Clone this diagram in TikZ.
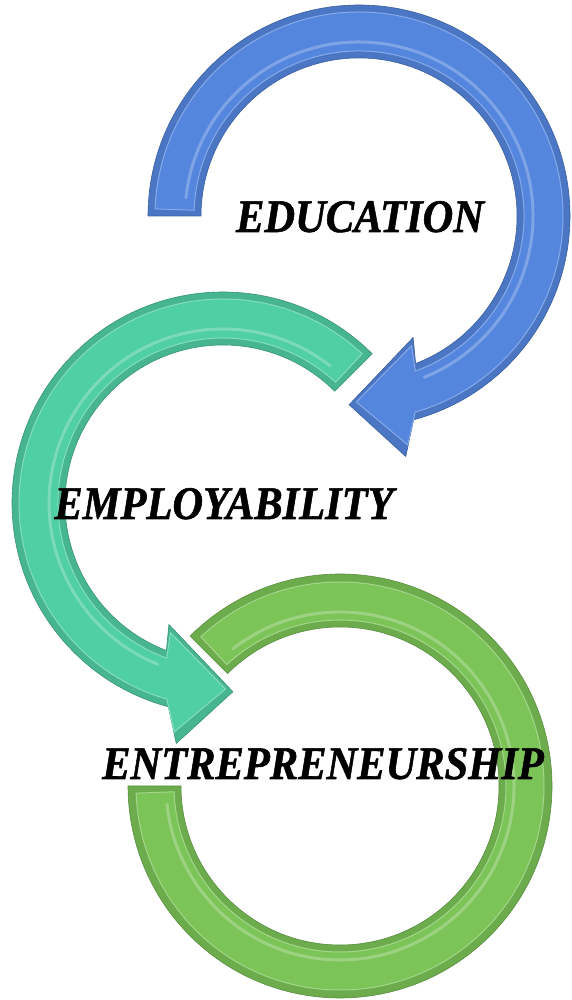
\documentclass[tikz,border=0pt]{standalone}
\usepackage{fontspec}
\setmainfont{Liberation Serif}[BoldItalicFeatures={FakeBold=1.2}]
\usepackage{tikz}
\usetikzlibrary{positioning}

\definecolor{eduBlue}{RGB}{84,134,222}
\definecolor{empTeal}{RGB}{80,206,164}
\definecolor{entGreen}{RGB}{124,196,88}

\begin{document}
\begin{tikzpicture}[
    x=1pt, y=1pt,
    band/.style={fill=#1!88!black, draw=#1!72!black, line width=0.6pt},
    face/.style={fill=#1, draw=#1!70!white, line width=1pt},
    gloss/.style={draw=white, line width=3pt, opacity=0.25, line cap=round},
    label/.style={font=\fontsize{42.5}{46}\selectfont\bfseries\itshape, text=black, inner sep=0pt, anchor=base}
]
\useasboundingbox (0,0) rectangle (571,1000);

% Entrepreneurship ring (no head)
\begin{scope}[shift={(340,214)}]
\path[band=entGreen] (135:212) arc[start angle=135, end angle=-180, radius=212]
    -- (-180:159) arc[start angle=-180, end angle=135, radius=159] -- cycle;
\path[face=entGreen] (133:204) arc[start angle=133, end angle=-178, radius=204]
    -- (-178:166) arc[start angle=-178, end angle=133, radius=166] -- cycle;
\draw[gloss] (128:174) arc[start angle=128, end angle=-174, radius=174];
\end{scope}

% Employability arrow
\begin{scope}[shift={(223,497)}]
\path[band=empTeal] (45:211) arc[start angle=45, end angle=255, radius=211]
    -- (259:245) -- (273:189) -- (246:133)
    -- (249:158) arc[start angle=249, end angle=45, radius=158] -- cycle;
\path[face=empTeal] (47:204) arc[start angle=47, end angle=254, radius=204]
    -- (258:234) -- (270.8:186) -- (248:140)
    -- (250:165) arc[start angle=250, end angle=47, radius=165] -- cycle;
\draw[gloss] (52:174) arc[start angle=52, end angle=248, radius=174];
\end{scope}

% Education arrow
\begin{scope}[shift={(359,784)}]
\path[band=eduBlue] (180:211) arc[start angle=180, end angle=-75, radius=211]
    -- (-79:245) -- (-93:189) -- (-66:133)
    -- (-69:158) arc[start angle=-69, end angle=180, radius=158] -- cycle;
\path[face=eduBlue] (178:204) arc[start angle=178, end angle=-74, radius=204]
    -- (-78:234) -- (-90.8:186) -- (-68:140)
    -- (-70:165) arc[start angle=-70, end angle=178, radius=165] -- cycle;
\draw[gloss] (174:174) arc[start angle=174, end angle=-68, radius=174];
\end{scope}

% Labels
\node[label] (education) at (360,768) {\scalebox{1}[1.1]{EDUCATION}};
\node[label] (employability) at (224,481) {\scalebox{1}[1.1]{EMPLOYABILITY}};
\node[label] (entrepreneurship) at (323,221) {\scalebox{1}[1.1]{ENTREPRENEURSHIP}};

\end{tikzpicture}
\end{document}
